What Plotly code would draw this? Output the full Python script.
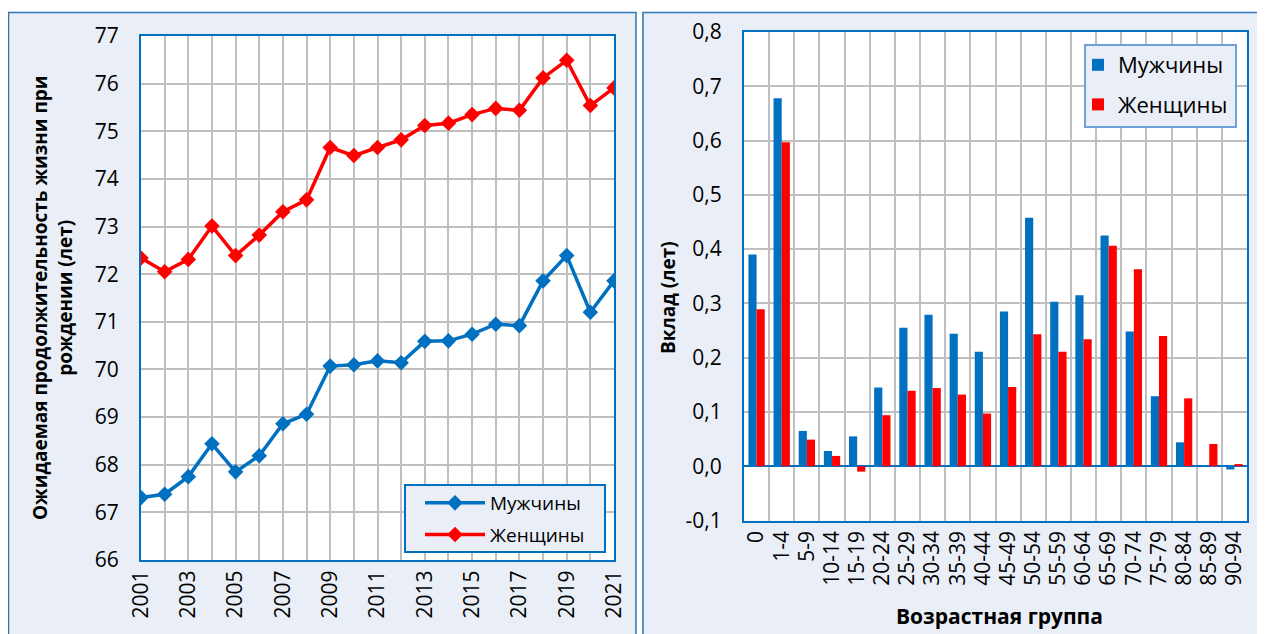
import plotly.graph_objects as go

# ---- Data: left chart (life expectancy) ----
years = list(range(2001, 2022))
male_le = [67.31, 67.38, 67.75, 68.44, 67.85, 68.19, 68.86, 69.06, 70.07, 70.10, 70.18,
           70.14, 70.59, 70.60, 70.74, 70.95, 70.92, 71.86, 72.39, 71.20, 71.86]
female_le = [72.34, 72.05, 72.31, 73.01, 72.39, 72.82, 73.31, 73.56, 74.66, 74.49, 74.66,
             74.82, 75.12, 75.17, 75.35, 75.48, 75.44, 76.12, 76.49, 75.54, 75.91]

# ---- Data: right chart (contribution by age group) ----
age_groups = ["0", "1-4", "5-9", "10-14", "15-19", "20-24", "25-29", "30-34", "35-39",
              "40-44", "45-49", "50-54", "55-59", "60-64", "65-69", "70-74", "75-79",
              "80-84", "85-89", "90-94"]
male_contrib = [0.390, 0.678, 0.065, 0.028, 0.055, 0.145, 0.255, 0.279, 0.244, 0.211,
                0.285, 0.458, 0.303, 0.315, 0.425, 0.248, 0.129, 0.044, 0.001, -0.006]
female_contrib = [0.289, 0.597, 0.049, 0.019, -0.010, 0.094, 0.139, 0.144, 0.132, 0.097,
                  0.146, 0.243, 0.211, 0.234, 0.406, 0.363, 0.240, 0.125, 0.041, 0.004]

contrib_ticks = [-0.1, 0.0, 0.1, 0.2, 0.3, 0.4, 0.5, 0.6, 0.7, 0.8]
contrib_tick_labels = ["-0,1", "0,0", "0,1", "0,2", "0,3", "0,4", "0,5", "0,6", "0,7", "0,8"]

series_names = ["Мужчины", "Женщины"]
BLUE = "#0070C0"
RED = "#FF0000"
PANEL = "#EAEFF7"
FRAME = "#2E75B6"
LEG2 = "#6FA0D8"
GRID = "#BFBFBF"
FONT = "Open Sans"

# the page body has an 8px margin, so the figure is placed at (8, 8)
OFF = 8
W, H = 1265 - OFF, 634 - OFF


def px_x(x):
    return (x - OFF) / W


def px_y(y):
    return 1 - (y - OFF) / H


fig = go.Figure()

# Left line chart
fig.add_trace(go.Scatter(x=years, y=male_le, name=series_names[0], mode="lines+markers",
                         line=dict(color=BLUE, width=3.5),
                         marker=dict(symbol="diamond", size=12, color=BLUE),
                         legend="legend", legendgroup="m1", xaxis="x", yaxis="y"))
fig.add_trace(go.Scatter(x=years, y=female_le, name=series_names[1], mode="lines+markers",
                         line=dict(color=RED, width=3.5),
                         marker=dict(symbol="diamond", size=12, color=RED),
                         legend="legend", legendgroup="f1", xaxis="x", yaxis="y"))

# Right bar chart
fig.add_trace(go.Bar(x=age_groups, y=male_contrib, name=series_names[0], marker_color=BLUE,
                     marker_line_width=0,
                     legend="legend2", legendgroup="m2", xaxis="x2", yaxis="y2"))
fig.add_trace(go.Bar(x=age_groups, y=female_contrib, name=series_names[1], marker_color=RED,
                     marker_line_width=0,
                     legend="legend2", legendgroup="f2", xaxis="x2", yaxis="y2"))

shapes = [
    # panels
    dict(type="rect", xref="paper", yref="paper", x0=px_x(8.5), x1=px_x(636), y0=px_y(650), y1=px_y(12.5),
         fillcolor=PANEL, line=dict(color=FRAME, width=1.5), layer="below"),
    dict(type="rect", xref="paper", yref="paper", x0=px_x(643), x1=px_x(1262), y0=px_y(650), y1=px_y(12.5),
         fillcolor=PANEL, line=dict(color=FRAME, width=1.5), layer="below"),
    # white plot areas
    dict(type="rect", xref="x domain", yref="y domain", x0=0, x1=1, y0=0, y1=1,
         fillcolor="white", line=dict(width=0), layer="below"),
    dict(type="rect", xref="x2 domain", yref="y2 domain", x0=0, x1=1, y0=0, y1=1,
         fillcolor="white", line=dict(width=0), layer="below"),
    # legend frames
    dict(type="rect", xref="paper", yref="paper", x0=px_x(405), x1=px_x(605), y0=px_y(552), y1=px_y(485),
         fillcolor=PANEL, line=dict(color=BLUE, width=2), layer="above"),
    dict(type="rect", xref="paper", yref="paper", x0=px_x(1085), x1=px_x(1236), y0=px_y(127), y1=px_y(45),
         fillcolor=PANEL, line=dict(color=LEG2, width=2), layer="above"),
]

tickfont = dict(family=FONT, size=21, color="#000000")

fig.update_layout(
    template="none",
    width=W, height=H,
    margin=dict(l=0, r=0, t=0, b=0, pad=0),
    paper_bgcolor="white",
    plot_bgcolor="white",
    separators=", ",
    font=dict(family=FONT, color="#000000"),
    shapes=shapes,
    barmode="group",
    bargap=0.35,
    bargroupgap=0.0,
    xaxis=dict(domain=[px_x(141), px_x(614)], range=[2001, 2021], dtick=2, tick0=2001,
               tickangle=-90, tickfont=tickfont, showgrid=True, gridcolor=GRID, gridwidth=1.5,
               minor=dict(dtick=1, tick0=2001, showgrid=True, gridcolor=GRID, gridwidth=1.5),
               showline=True, linecolor=BLUE, linewidth=2, mirror=True, ticks="",
               zeroline=False, anchor="y", automargin=False),
    yaxis=dict(domain=[px_y(560), px_y(36)], range=[66, 77], dtick=1, tickfont=tickfont,
               ticklabelstandoff=16,
               showgrid=True, gridcolor=GRID, gridwidth=1.5, showline=True, linecolor=BLUE,
               linewidth=2, mirror=True, ticks="", zeroline=False, anchor="x", automargin=False),
    xaxis2=dict(domain=[px_x(744), px_x(1247)], type="category", tickangle=-90,
                tickfont=tickfont, showgrid=True, gridcolor=GRID, gridwidth=1.5,
                tickson="boundaries", showline=True, linecolor=BLUE, linewidth=2, mirror=True,
                ticks="", anchor="y2", automargin=False),
    yaxis2=dict(domain=[px_y(520.5), px_y(32)], range=[-0.1, 0.8],
                tickvals=contrib_ticks, ticktext=contrib_tick_labels, ticklabelstandoff=16,
                tickfont=tickfont, showgrid=True, gridcolor=GRID, gridwidth=1.5,
                showline=True, linecolor=BLUE, linewidth=2, mirror=True, ticks="",
                zeroline=True, zerolinecolor=BLUE, zerolinewidth=2, anchor="x2", automargin=False),
    legend=dict(x=px_x(420), y=px_y(484), xanchor="left", yanchor="top",
                bgcolor="rgba(0,0,0,0)", borderwidth=0,
                font=dict(family=FONT, size=19), tracegroupgap=4, itemwidth=60),
    legend2=dict(x=px_x(1078), y=px_y(44), xanchor="left", yanchor="top",
                 bgcolor="rgba(0,0,0,0)", borderwidth=0,
                 font=dict(family=FONT, size=22), tracegroupgap=8, itemwidth=30),
    showlegend=True,
    annotations=[
        dict(text="<b>Ожидаемая продолжительность жизни при<br>рождении (лет)</b>",
             xref="paper", yref="paper", x=px_x(52), y=px_y(298), textangle=-90,
             xanchor="center", yanchor="middle",
             showarrow=False, font=dict(family=FONT, size=19, color="#000000"), align="center"),
        dict(text="<b>Вклад (лет)</b>", xref="paper", yref="paper", x=px_x(668), y=px_y(298),
             xanchor="center", yanchor="middle",
             textangle=-90, showarrow=False, font=dict(family=FONT, size=19, color="#000000")),
        dict(text="<b>Возрастная группа</b>", xref="paper", yref="paper", x=px_x(1000),
             y=px_y(616), xanchor="center", yanchor="middle", showarrow=False,
             font=dict(family=FONT, size=21, color="#000000")),
    ],
)

fig.write_html("out.html")
